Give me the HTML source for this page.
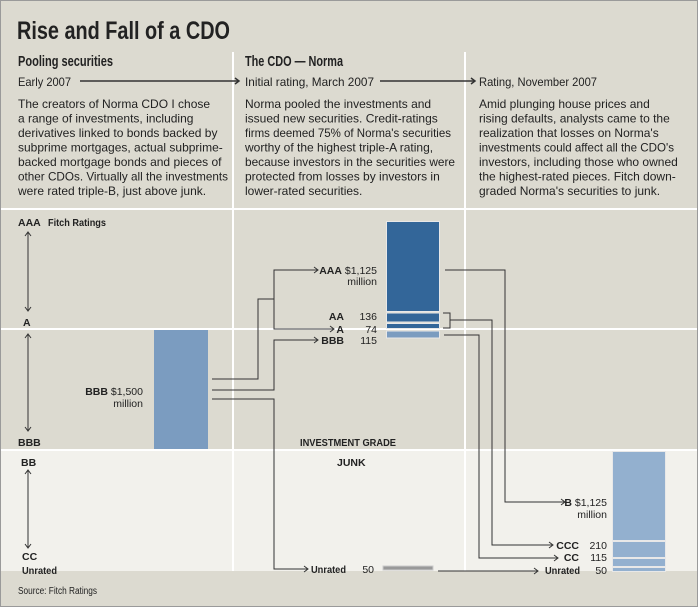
<!DOCTYPE html>
<html><head><meta charset="utf-8"><style>
body{margin:0;background:#dcdad0}
svg{display:block}
text{font-family:"Liberation Sans",sans-serif;fill:#222}
.b{font-size:12px}
.h{font-size:15px;font-weight:bold}
.l{font-size:10.5px;font-weight:bold}
.n{font-size:10.5px}
</style></head><body>
<svg width="698" height="607" viewBox="0 0 698 607" xmlns="http://www.w3.org/2000/svg">
<rect x="0" y="0" width="698" height="607" fill="#dcdad0"/>
<rect x="0.5" y="0.5" width="697" height="606" fill="none" stroke="#9a9a9a"/>
<rect x="1" y="451" width="696" height="120" fill="#f2f1ec"/>
<g stroke="#fff" stroke-width="2">
<line x1="233" y1="52" x2="233" y2="571"/>
<line x1="465" y1="52" x2="465" y2="571"/>
<line x1="1" y1="209" x2="697" y2="209"/>
<line x1="1" y1="329" x2="697" y2="329"/>
<line x1="1" y1="450" x2="697" y2="450"/>
</g>
<text x="17" y="39" style="font-size:25px;font-weight:bold" textLength="213" lengthAdjust="spacingAndGlyphs">Rise and Fall of a CDO</text>
<text x="18" y="66" class="h" textLength="95" lengthAdjust="spacingAndGlyphs">Pooling securities</text>
<text x="245" y="66" class="h" textLength="98" lengthAdjust="spacingAndGlyphs">The CDO — Norma</text>
<g class="b">
<text x="18" y="86" textLength="53" lengthAdjust="spacingAndGlyphs">Early 2007</text>
<text x="245" y="86" textLength="129" lengthAdjust="spacingAndGlyphs">Initial rating, March 2007</text>
<text x="479" y="86" textLength="118" lengthAdjust="spacingAndGlyphs">Rating, November 2007</text>
</g>
<g stroke="#333" stroke-width="1.5" fill="none">
<line x1="80" y1="81" x2="238" y2="81"/><path d="M235,78 L239,81 L235,84"/>
<line x1="380" y1="81" x2="474" y2="81"/><path d="M471,78 L475,81 L471,84"/>
</g>
<g class="b">
<text x="18" y="108">The creators of Norma CDO I chose</text>
<text x="18" y="122.5">a range of investments, including</text>
<text x="18" y="137">derivatives linked to bonds backed by</text>
<text x="18" y="151.5">subprime mortgages, actual subprime-</text>
<text x="18" y="166">backed mortgage bonds and pieces of</text>
<text x="18" y="180.5" textLength="210" lengthAdjust="spacingAndGlyphs">other CDOs. Virtually all the investments</text>
<text x="18" y="195">were rated triple-B, just above junk.</text>
<text x="245" y="108">Norma pooled the investments and</text>
<text x="245" y="122.5">issued new securities. Credit-ratings</text>
<text x="245" y="137" textLength="206" lengthAdjust="spacingAndGlyphs">firms deemed 75% of Norma's securities</text>
<text x="245" y="151.5">worthy of the highest triple-A rating,</text>
<text x="245" y="166" textLength="210" lengthAdjust="spacingAndGlyphs">because investors in the securities were</text>
<text x="245" y="180.5">protected from losses by investors in</text>
<text x="245" y="195">lower-rated securities.</text>
<text x="479" y="108">Amid plunging house prices and</text>
<text x="479" y="122.5">rising defaults, analysts came to the</text>
<text x="479" y="137">realization that losses on Norma's</text>
<text x="479" y="151.5" textLength="195" lengthAdjust="spacingAndGlyphs">investments could affect all the CDO's</text>
<text x="479" y="166">investors, including those who owned</text>
<text x="479" y="180.5">the highest-rated pieces. Fitch down-</text>
<text x="479" y="195">graded Norma's securities to junk.</text>
</g>
<g class="l">
<text x="18" y="226">AAA</text><text x="48" y="226" textLength="58" lengthAdjust="spacingAndGlyphs">Fitch Ratings</text>
<text x="23" y="326">A</text>
<text x="18" y="446">BBB</text>
<text x="21" y="466">BB</text>
<text x="22" y="560">CC</text>
<text x="22" y="574" textLength="35" lengthAdjust="spacingAndGlyphs">Unrated</text>
<text x="300" y="446" textLength="96" lengthAdjust="spacingAndGlyphs">INVESTMENT GRADE</text>
<text x="337" y="466">JUNK</text>
</g>
<g stroke="#333" fill="none" stroke-width="1">
<line x1="28" y1="233" x2="28" y2="310"/><path d="M25,236 L28,232 L31,236 M25,307 L28,311 L31,307"/>
<line x1="28" y1="335" x2="28" y2="430"/><path d="M25,338 L28,334 L31,338 M25,427 L28,431 L31,427"/>
<line x1="28" y1="471" x2="28" y2="547"/><path d="M25,474 L28,470 L31,474 M25,544 L28,548 L31,544"/>
</g>
<text x="18" y="594" style="font-size:10px" textLength="79" lengthAdjust="spacingAndGlyphs">Source: Fitch Ratings</text>
<rect x="154" y="330" width="54" height="119" fill="#7b9cc0"/>
<text x="143" y="395" class="n" text-anchor="end"><tspan font-weight="bold">BBB</tspan> $1,500</text>
<text x="143" y="407" class="n" text-anchor="end">million</text>
<g stroke="#e8e8e8" stroke-width="1">
<rect x="386.5" y="221.5" width="53" height="90" fill="#336699"/>
<rect x="386.5" y="313" width="53" height="9" fill="#336699"/>
<rect x="386.5" y="323.5" width="53" height="5" fill="#336699"/>
<rect x="386.5" y="331" width="53" height="7" fill="#7b9cc0"/>
<rect x="612.5" y="451.5" width="53" height="89" fill="#93b0cf"/>
<rect x="612.5" y="541.5" width="53" height="16" fill="#93b0cf"/>
<rect x="612.5" y="558.5" width="53" height="8" fill="#93b0cf"/>
<rect x="612.5" y="567.5" width="53" height="4" fill="#93b0cf"/>
</g>
<rect x="383" y="566" width="50" height="4" fill="#999" stroke="#ccc"/>
<g class="n">
<text x="377" y="274" text-anchor="end"><tspan font-weight="bold">AAA</tspan> $1,125</text>
<text x="377" y="285" text-anchor="end">million</text>
<text x="344" y="320" font-weight="bold" text-anchor="end">AA</text><text x="377" y="320" text-anchor="end">136</text>
<text x="344" y="333" font-weight="bold" text-anchor="end">A</text><text x="377" y="333" text-anchor="end">74</text>
<text x="344" y="344" font-weight="bold" text-anchor="end">BBB</text><text x="377" y="344" text-anchor="end">115</text>
<text x="346" y="573" font-weight="bold" text-anchor="end" textLength="35" lengthAdjust="spacingAndGlyphs">Unrated</text><text x="374" y="573" text-anchor="end">50</text>
<text x="607" y="506" text-anchor="end"><tspan font-weight="bold">B</tspan> $1,125</text>
<text x="607" y="518" text-anchor="end">million</text>
<text x="579" y="549" font-weight="bold" text-anchor="end">CCC</text><text x="607" y="549" text-anchor="end">210</text>
<text x="579" y="561" font-weight="bold" text-anchor="end">CC</text><text x="607" y="561" text-anchor="end">115</text>
<text x="580" y="574" font-weight="bold" text-anchor="end" textLength="35" lengthAdjust="spacingAndGlyphs">Unrated</text><text x="607" y="574" text-anchor="end">50</text>
</g>
<g stroke="#333" fill="none" stroke-width="1">
<path d="M212,379 H258 V299 H274 V270 H318"/><path d="M314,267 L318,270 L314,273"/>
<path d="M274,299 V329 H334"/><path d="M330,326 L334,329 L330,332"/>
<path d="M212,390 H274 V340 H318"/><path d="M314,337 L318,340 L314,343"/>
<path d="M212,399 H274 V569 H308"/><path d="M304,566 L308,569 L304,572"/>
<path d="M445,270 H505 V502 H565"/><path d="M561,499 L565,502 L561,505"/>
<path d="M443,313 H450 V328 H443 M450,320 H492 V545 H553"/><path d="M549,542 L553,545 L549,548"/>
<path d="M444,335 H479 V558 H558"/><path d="M554,555 L558,558 L554,561"/>
<path d="M438,571 H538"/><path d="M534,568 L538,571 L534,574"/>
</g>
</svg>
</body></html>
